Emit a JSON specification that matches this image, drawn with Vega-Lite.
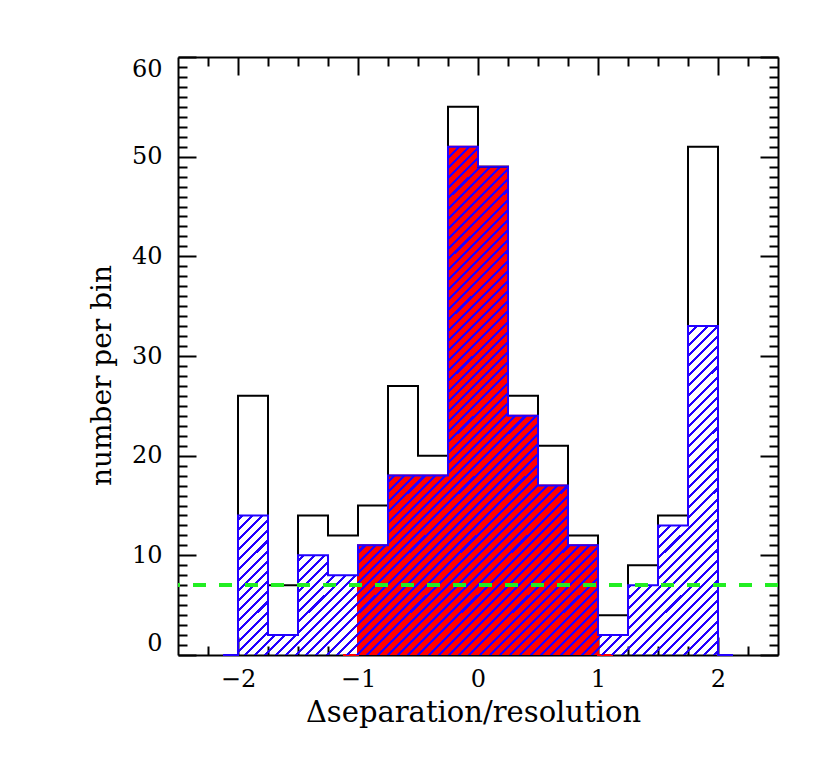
{
  "$schema": "https://vega.github.io/schema/vega-lite/v6.json",
  "width": 600,
  "height": 598,
  "autosize": {"type": "none"},
  "padding": {"left": 178, "top": 57, "right": 52, "bottom": 112},
  "background": "white",
  "datasets": {
    "hist": [
      {"c": -2.125, "all": 0, "sel": 0, "core": null},
      {"c": -1.875, "all": 26, "sel": 14, "core": null},
      {"c": -1.625, "all": 7, "sel": 2, "core": null},
      {"c": -1.375, "all": 14, "sel": 10, "core": null},
      {"c": -1.125, "all": 12, "sel": 8, "core": 0},
      {"c": -0.875, "all": 15, "sel": 11, "core": 11},
      {"c": -0.625, "all": 27, "sel": 18, "core": 18},
      {"c": -0.375, "all": 20, "sel": 18, "core": 18},
      {"c": -0.125, "all": 55, "sel": 51, "core": 51},
      {"c": 0.125, "all": 49, "sel": 49, "core": 49},
      {"c": 0.375, "all": 26, "sel": 24, "core": 24},
      {"c": 0.625, "all": 21, "sel": 17, "core": 17},
      {"c": 0.875, "all": 12, "sel": 11, "core": 11},
      {"c": 1.125, "all": 4, "sel": 2, "core": 0},
      {"c": 1.375, "all": 9, "sel": 7, "core": null},
      {"c": 1.625, "all": 14, "sel": 13, "core": null},
      {"c": 1.875, "all": 51, "sel": 33, "core": null},
      {"c": 2.125, "all": 0, "sel": 0, "core": null}
    ]
  },
  "data": {"name": "hist"},
  "resolve": {"axis": {"x": "independent", "y": "independent"}},
  "config": {
    "view": {"stroke": null},
    "axis": {
      "labelFont": "DejaVu Serif",
      "titleFont": "DejaVu Serif",
      "labelFontSize": 24,
      "titleFontWeight": "normal",
      "labelColor": "black",
      "titleColor": "black",
      "domainColor": "black",
      "tickColor": "black",
      "domainWidth": 2,
      "tickWidth": 2,
      "grid": false,
      "zindex": 1
    }
  },
  "layer": [
    {
      "transform": [{"filter": "datum.core != null"}],
      "mark": {"type": "area", "interpolate": "step", "color": "#ff0000"},
      "encoding": {
        "x": {
          "field": "c", "type": "quantitative",
          "scale": {"domain": [-2.5, 2.5], "nice": false, "zero": false},
          "axis": {
            "orient": "bottom", "values": [-2, -1, 0, 1, 2], "format": "d",
            "tickSize": -18, "labelPadding": 49, "labelBaseline": "alphabetic",
            "labelFontSize": 24, "labelFont": "DejaVu Serif",
            "title": "Δseparation/resolution", "titleX": 295, "titleY": 66,
            "titleBaseline": "alphabetic", "titleAlign": "center", "titleFontSize": 29
          }
        },
        "y": {
          "field": "core", "type": "quantitative",
          "scale": {"domain": [0, 60], "nice": false},
          "axis": {
            "orient": "left", "values": [0, 10, 20, 30, 40, 50, 60],
            "tickSize": -18, "labelPadding": 34, "labelFlush": true,
            "labelFontSize": 24, "labelFont": "DejaVu Serif",
            "title": "number per bin", "titleX": -68, "titleY": 318, "titleAngle": -90,
            "titleBaseline": "alphabetic", "titleAlign": "center", "titleFontSize": 28
          }
        }
      }
    },
    {
      "transform": [{"filter": "datum.core != null"}],
      "mark": {"type": "line", "interpolate": "step", "color": "#ff0000", "strokeWidth": 2},
      "encoding": {
        "x": {"field": "c", "type": "quantitative", "axis": null},
        "y": {"field": "core", "type": "quantitative", "axis": null}
      }
    },
    {
      "mark": {
        "type": "area", "interpolate": "step",
        "fill": {
          "gradient": "linear", "x1": 0, "y1": 0, "x2": 1, "y2": 1,
          "stops": [
{"offset":0,"color":"#20f"},{"offset":0.003,"color":"#20f"},{"offset":0.003,"color":"transparent"},{"offset":0.01,"color":"transparent"},
{"offset":0.01,"color":"#20f"},{"offset":0.013,"color":"#20f"},{"offset":0.013,"color":"transparent"},{"offset":0.02,"color":"transparent"},
{"offset":0.02,"color":"#20f"},{"offset":0.023,"color":"#20f"},{"offset":0.023,"color":"transparent"},{"offset":0.03,"color":"transparent"},
{"offset":0.03,"color":"#20f"},{"offset":0.033,"color":"#20f"},{"offset":0.033,"color":"transparent"},{"offset":0.04,"color":"transparent"},
{"offset":0.04,"color":"#20f"},{"offset":0.043,"color":"#20f"},{"offset":0.043,"color":"transparent"},{"offset":0.05,"color":"transparent"},
{"offset":0.05,"color":"#20f"},{"offset":0.053,"color":"#20f"},{"offset":0.053,"color":"transparent"},{"offset":0.06,"color":"transparent"},
{"offset":0.06,"color":"#20f"},{"offset":0.063,"color":"#20f"},{"offset":0.063,"color":"transparent"},{"offset":0.07,"color":"transparent"},
{"offset":0.07,"color":"#20f"},{"offset":0.073,"color":"#20f"},{"offset":0.073,"color":"transparent"},{"offset":0.08,"color":"transparent"},
{"offset":0.08,"color":"#20f"},{"offset":0.083,"color":"#20f"},{"offset":0.083,"color":"transparent"},{"offset":0.09,"color":"transparent"},
{"offset":0.09,"color":"#20f"},{"offset":0.093,"color":"#20f"},{"offset":0.093,"color":"transparent"},{"offset":0.10,"color":"transparent"},
{"offset":0.10,"color":"#20f"},{"offset":0.103,"color":"#20f"},{"offset":0.103,"color":"transparent"},{"offset":0.11,"color":"transparent"},
{"offset":0.11,"color":"#20f"},{"offset":0.113,"color":"#20f"},{"offset":0.113,"color":"transparent"},{"offset":0.12,"color":"transparent"},
{"offset":0.12,"color":"#20f"},{"offset":0.123,"color":"#20f"},{"offset":0.123,"color":"transparent"},{"offset":0.13,"color":"transparent"},
{"offset":0.13,"color":"#20f"},{"offset":0.133,"color":"#20f"},{"offset":0.133,"color":"transparent"},{"offset":0.14,"color":"transparent"},
{"offset":0.14,"color":"#20f"},{"offset":0.143,"color":"#20f"},{"offset":0.143,"color":"transparent"},{"offset":0.15,"color":"transparent"},
{"offset":0.15,"color":"#20f"},{"offset":0.153,"color":"#20f"},{"offset":0.153,"color":"transparent"},{"offset":0.16,"color":"transparent"},
{"offset":0.16,"color":"#20f"},{"offset":0.163,"color":"#20f"},{"offset":0.163,"color":"transparent"},{"offset":0.17,"color":"transparent"},
{"offset":0.17,"color":"#20f"},{"offset":0.173,"color":"#20f"},{"offset":0.173,"color":"transparent"},{"offset":0.18,"color":"transparent"},
{"offset":0.18,"color":"#20f"},{"offset":0.183,"color":"#20f"},{"offset":0.183,"color":"transparent"},{"offset":0.19,"color":"transparent"},
{"offset":0.19,"color":"#20f"},{"offset":0.193,"color":"#20f"},{"offset":0.193,"color":"transparent"},{"offset":0.20,"color":"transparent"},
{"offset":0.20,"color":"#20f"},{"offset":0.203,"color":"#20f"},{"offset":0.203,"color":"transparent"},{"offset":0.21,"color":"transparent"},
{"offset":0.21,"color":"#20f"},{"offset":0.213,"color":"#20f"},{"offset":0.213,"color":"transparent"},{"offset":0.22,"color":"transparent"},
{"offset":0.22,"color":"#20f"},{"offset":0.223,"color":"#20f"},{"offset":0.223,"color":"transparent"},{"offset":0.23,"color":"transparent"},
{"offset":0.23,"color":"#20f"},{"offset":0.233,"color":"#20f"},{"offset":0.233,"color":"transparent"},{"offset":0.24,"color":"transparent"},
{"offset":0.24,"color":"#20f"},{"offset":0.243,"color":"#20f"},{"offset":0.243,"color":"transparent"},{"offset":0.25,"color":"transparent"},
{"offset":0.25,"color":"#20f"},{"offset":0.253,"color":"#20f"},{"offset":0.253,"color":"transparent"},{"offset":0.26,"color":"transparent"},
{"offset":0.26,"color":"#20f"},{"offset":0.263,"color":"#20f"},{"offset":0.263,"color":"transparent"},{"offset":0.27,"color":"transparent"},
{"offset":0.27,"color":"#20f"},{"offset":0.273,"color":"#20f"},{"offset":0.273,"color":"transparent"},{"offset":0.28,"color":"transparent"},
{"offset":0.28,"color":"#20f"},{"offset":0.283,"color":"#20f"},{"offset":0.283,"color":"transparent"},{"offset":0.29,"color":"transparent"},
{"offset":0.29,"color":"#20f"},{"offset":0.293,"color":"#20f"},{"offset":0.293,"color":"transparent"},{"offset":0.30,"color":"transparent"},
{"offset":0.30,"color":"#20f"},{"offset":0.303,"color":"#20f"},{"offset":0.303,"color":"transparent"},{"offset":0.31,"color":"transparent"},
{"offset":0.31,"color":"#20f"},{"offset":0.313,"color":"#20f"},{"offset":0.313,"color":"transparent"},{"offset":0.32,"color":"transparent"},
{"offset":0.32,"color":"#20f"},{"offset":0.323,"color":"#20f"},{"offset":0.323,"color":"transparent"},{"offset":0.33,"color":"transparent"},
{"offset":0.33,"color":"#20f"},{"offset":0.333,"color":"#20f"},{"offset":0.333,"color":"transparent"},{"offset":0.34,"color":"transparent"},
{"offset":0.34,"color":"#20f"},{"offset":0.343,"color":"#20f"},{"offset":0.343,"color":"transparent"},{"offset":0.35,"color":"transparent"},
{"offset":0.35,"color":"#20f"},{"offset":0.353,"color":"#20f"},{"offset":0.353,"color":"transparent"},{"offset":0.36,"color":"transparent"},
{"offset":0.36,"color":"#20f"},{"offset":0.363,"color":"#20f"},{"offset":0.363,"color":"transparent"},{"offset":0.37,"color":"transparent"},
{"offset":0.37,"color":"#20f"},{"offset":0.373,"color":"#20f"},{"offset":0.373,"color":"transparent"},{"offset":0.38,"color":"transparent"},
{"offset":0.38,"color":"#20f"},{"offset":0.383,"color":"#20f"},{"offset":0.383,"color":"transparent"},{"offset":0.39,"color":"transparent"},
{"offset":0.39,"color":"#20f"},{"offset":0.393,"color":"#20f"},{"offset":0.393,"color":"transparent"},{"offset":0.40,"color":"transparent"},
{"offset":0.40,"color":"#20f"},{"offset":0.403,"color":"#20f"},{"offset":0.403,"color":"transparent"},{"offset":0.41,"color":"transparent"},
{"offset":0.41,"color":"#20f"},{"offset":0.413,"color":"#20f"},{"offset":0.413,"color":"transparent"},{"offset":0.42,"color":"transparent"},
{"offset":0.42,"color":"#20f"},{"offset":0.423,"color":"#20f"},{"offset":0.423,"color":"transparent"},{"offset":0.43,"color":"transparent"},
{"offset":0.43,"color":"#20f"},{"offset":0.433,"color":"#20f"},{"offset":0.433,"color":"transparent"},{"offset":0.44,"color":"transparent"},
{"offset":0.44,"color":"#20f"},{"offset":0.443,"color":"#20f"},{"offset":0.443,"color":"transparent"},{"offset":0.45,"color":"transparent"},
{"offset":0.45,"color":"#20f"},{"offset":0.453,"color":"#20f"},{"offset":0.453,"color":"transparent"},{"offset":0.46,"color":"transparent"},
{"offset":0.46,"color":"#20f"},{"offset":0.463,"color":"#20f"},{"offset":0.463,"color":"transparent"},{"offset":0.47,"color":"transparent"},
{"offset":0.47,"color":"#20f"},{"offset":0.473,"color":"#20f"},{"offset":0.473,"color":"transparent"},{"offset":0.48,"color":"transparent"},
{"offset":0.48,"color":"#20f"},{"offset":0.483,"color":"#20f"},{"offset":0.483,"color":"transparent"},{"offset":0.49,"color":"transparent"},
{"offset":0.49,"color":"#20f"},{"offset":0.493,"color":"#20f"},{"offset":0.493,"color":"transparent"},{"offset":0.50,"color":"transparent"},
{"offset":0.50,"color":"#20f"},{"offset":0.503,"color":"#20f"},{"offset":0.503,"color":"transparent"},{"offset":0.51,"color":"transparent"},
{"offset":0.51,"color":"#20f"},{"offset":0.513,"color":"#20f"},{"offset":0.513,"color":"transparent"},{"offset":0.52,"color":"transparent"},
{"offset":0.52,"color":"#20f"},{"offset":0.523,"color":"#20f"},{"offset":0.523,"color":"transparent"},{"offset":0.53,"color":"transparent"},
{"offset":0.53,"color":"#20f"},{"offset":0.533,"color":"#20f"},{"offset":0.533,"color":"transparent"},{"offset":0.54,"color":"transparent"},
{"offset":0.54,"color":"#20f"},{"offset":0.543,"color":"#20f"},{"offset":0.543,"color":"transparent"},{"offset":0.55,"color":"transparent"},
{"offset":0.55,"color":"#20f"},{"offset":0.553,"color":"#20f"},{"offset":0.553,"color":"transparent"},{"offset":0.56,"color":"transparent"},
{"offset":0.56,"color":"#20f"},{"offset":0.563,"color":"#20f"},{"offset":0.563,"color":"transparent"},{"offset":0.57,"color":"transparent"},
{"offset":0.57,"color":"#20f"},{"offset":0.573,"color":"#20f"},{"offset":0.573,"color":"transparent"},{"offset":0.58,"color":"transparent"},
{"offset":0.58,"color":"#20f"},{"offset":0.583,"color":"#20f"},{"offset":0.583,"color":"transparent"},{"offset":0.59,"color":"transparent"},
{"offset":0.59,"color":"#20f"},{"offset":0.593,"color":"#20f"},{"offset":0.593,"color":"transparent"},{"offset":0.60,"color":"transparent"},
{"offset":0.60,"color":"#20f"},{"offset":0.603,"color":"#20f"},{"offset":0.603,"color":"transparent"},{"offset":0.61,"color":"transparent"},
{"offset":0.61,"color":"#20f"},{"offset":0.613,"color":"#20f"},{"offset":0.613,"color":"transparent"},{"offset":0.62,"color":"transparent"},
{"offset":0.62,"color":"#20f"},{"offset":0.623,"color":"#20f"},{"offset":0.623,"color":"transparent"},{"offset":0.63,"color":"transparent"},
{"offset":0.63,"color":"#20f"},{"offset":0.633,"color":"#20f"},{"offset":0.633,"color":"transparent"},{"offset":0.64,"color":"transparent"},
{"offset":0.64,"color":"#20f"},{"offset":0.643,"color":"#20f"},{"offset":0.643,"color":"transparent"},{"offset":0.65,"color":"transparent"},
{"offset":0.65,"color":"#20f"},{"offset":0.653,"color":"#20f"},{"offset":0.653,"color":"transparent"},{"offset":0.66,"color":"transparent"},
{"offset":0.66,"color":"#20f"},{"offset":0.663,"color":"#20f"},{"offset":0.663,"color":"transparent"},{"offset":0.67,"color":"transparent"},
{"offset":0.67,"color":"#20f"},{"offset":0.673,"color":"#20f"},{"offset":0.673,"color":"transparent"},{"offset":0.68,"color":"transparent"},
{"offset":0.68,"color":"#20f"},{"offset":0.683,"color":"#20f"},{"offset":0.683,"color":"transparent"},{"offset":0.69,"color":"transparent"},
{"offset":0.69,"color":"#20f"},{"offset":0.693,"color":"#20f"},{"offset":0.693,"color":"transparent"},{"offset":0.70,"color":"transparent"},
{"offset":0.70,"color":"#20f"},{"offset":0.703,"color":"#20f"},{"offset":0.703,"color":"transparent"},{"offset":0.71,"color":"transparent"},
{"offset":0.71,"color":"#20f"},{"offset":0.713,"color":"#20f"},{"offset":0.713,"color":"transparent"},{"offset":0.72,"color":"transparent"},
{"offset":0.72,"color":"#20f"},{"offset":0.723,"color":"#20f"},{"offset":0.723,"color":"transparent"},{"offset":0.73,"color":"transparent"},
{"offset":0.73,"color":"#20f"},{"offset":0.733,"color":"#20f"},{"offset":0.733,"color":"transparent"},{"offset":0.74,"color":"transparent"},
{"offset":0.74,"color":"#20f"},{"offset":0.743,"color":"#20f"},{"offset":0.743,"color":"transparent"},{"offset":0.75,"color":"transparent"},
{"offset":0.75,"color":"#20f"},{"offset":0.753,"color":"#20f"},{"offset":0.753,"color":"transparent"},{"offset":0.76,"color":"transparent"},
{"offset":0.76,"color":"#20f"},{"offset":0.763,"color":"#20f"},{"offset":0.763,"color":"transparent"},{"offset":0.77,"color":"transparent"},
{"offset":0.77,"color":"#20f"},{"offset":0.773,"color":"#20f"},{"offset":0.773,"color":"transparent"},{"offset":0.78,"color":"transparent"},
{"offset":0.78,"color":"#20f"},{"offset":0.783,"color":"#20f"},{"offset":0.783,"color":"transparent"},{"offset":0.79,"color":"transparent"},
{"offset":0.79,"color":"#20f"},{"offset":0.793,"color":"#20f"},{"offset":0.793,"color":"transparent"},{"offset":0.80,"color":"transparent"},
{"offset":0.80,"color":"#20f"},{"offset":0.803,"color":"#20f"},{"offset":0.803,"color":"transparent"},{"offset":0.81,"color":"transparent"},
{"offset":0.81,"color":"#20f"},{"offset":0.813,"color":"#20f"},{"offset":0.813,"color":"transparent"},{"offset":0.82,"color":"transparent"},
{"offset":0.82,"color":"#20f"},{"offset":0.823,"color":"#20f"},{"offset":0.823,"color":"transparent"},{"offset":0.83,"color":"transparent"},
{"offset":0.83,"color":"#20f"},{"offset":0.833,"color":"#20f"},{"offset":0.833,"color":"transparent"},{"offset":0.84,"color":"transparent"},
{"offset":0.84,"color":"#20f"},{"offset":0.843,"color":"#20f"},{"offset":0.843,"color":"transparent"},{"offset":0.85,"color":"transparent"},
{"offset":0.85,"color":"#20f"},{"offset":0.853,"color":"#20f"},{"offset":0.853,"color":"transparent"},{"offset":0.86,"color":"transparent"},
{"offset":0.86,"color":"#20f"},{"offset":0.863,"color":"#20f"},{"offset":0.863,"color":"transparent"},{"offset":0.87,"color":"transparent"},
{"offset":0.87,"color":"#20f"},{"offset":0.873,"color":"#20f"},{"offset":0.873,"color":"transparent"},{"offset":0.88,"color":"transparent"},
{"offset":0.88,"color":"#20f"},{"offset":0.883,"color":"#20f"},{"offset":0.883,"color":"transparent"},{"offset":0.89,"color":"transparent"},
{"offset":0.89,"color":"#20f"},{"offset":0.893,"color":"#20f"},{"offset":0.893,"color":"transparent"},{"offset":0.90,"color":"transparent"},
{"offset":0.90,"color":"#20f"},{"offset":0.903,"color":"#20f"},{"offset":0.903,"color":"transparent"},{"offset":0.91,"color":"transparent"},
{"offset":0.91,"color":"#20f"},{"offset":0.913,"color":"#20f"},{"offset":0.913,"color":"transparent"},{"offset":0.92,"color":"transparent"},
{"offset":0.92,"color":"#20f"},{"offset":0.923,"color":"#20f"},{"offset":0.923,"color":"transparent"},{"offset":0.93,"color":"transparent"},
{"offset":0.93,"color":"#20f"},{"offset":0.933,"color":"#20f"},{"offset":0.933,"color":"transparent"},{"offset":0.94,"color":"transparent"},
{"offset":0.94,"color":"#20f"},{"offset":0.943,"color":"#20f"},{"offset":0.943,"color":"transparent"},{"offset":0.95,"color":"transparent"},
{"offset":0.95,"color":"#20f"},{"offset":0.953,"color":"#20f"},{"offset":0.953,"color":"transparent"},{"offset":0.96,"color":"transparent"},
{"offset":0.96,"color":"#20f"},{"offset":0.963,"color":"#20f"},{"offset":0.963,"color":"transparent"},{"offset":0.97,"color":"transparent"},
{"offset":0.97,"color":"#20f"},{"offset":0.973,"color":"#20f"},{"offset":0.973,"color":"transparent"},{"offset":0.98,"color":"transparent"},
{"offset":0.98,"color":"#20f"},{"offset":0.983,"color":"#20f"},{"offset":0.983,"color":"transparent"},{"offset":0.99,"color":"transparent"},
{"offset":0.99,"color":"#20f"},{"offset":0.993,"color":"#20f"},{"offset":0.993,"color":"transparent"},{"offset":1,"color":"transparent"}
          ]
        }
      },
      "encoding": {
        "x": {
          "field": "c", "type": "quantitative",
          "axis": {"orient": "top", "values": [-2, -1, 0, 1, 2], "labels": false, "tickSize": -18, "title": null}
        },
        "y": {
          "field": "sel", "type": "quantitative",
          "axis": {"orient": "right", "values": [0, 10, 20, 30, 40, 50, 60], "labels": false, "tickSize": -18, "title": null}
        }
      }
    },
    {
      "mark": {"type": "line", "interpolate": "step", "color": "black", "strokeWidth": 2},
      "encoding": {
        "x": {
          "field": "c", "type": "quantitative",
          "axis": {"orient": "bottom", "values": [-2.25, -1.75, -1.5, -1.25, -0.75, -0.5, -0.25, 0.25, 0.5, 0.75, 1.25, 1.5, 1.75, 2.25], "labels": false, "domain": false, "tickSize": -9, "title": null}
        },
        "y": {
          "field": "all", "type": "quantitative",
          "axis": {"orient": "left", "values": [1,2,3,4,5,6,7,8,9,11,12,13,14,15,16,17,18,19,21,22,23,24,25,26,27,28,29,31,32,33,34,35,36,37,38,39,41,42,43,44,45,46,47,48,49,51,52,53,54,55,56,57,58,59], "labels": false, "domain": false, "tickSize": -9, "title": null}
        }
      }
    },
    {
      "mark": {"type": "line", "interpolate": "step", "color": "#20f", "strokeWidth": 2},
      "encoding": {
        "x": {
          "field": "c", "type": "quantitative",
          "axis": {"orient": "top", "values": [-2.25, -1.75, -1.5, -1.25, -0.75, -0.5, -0.25, 0.25, 0.5, 0.75, 1.25, 1.5, 1.75, 2.25], "labels": false, "domain": false, "tickSize": -9, "title": null}
        },
        "y": {
          "field": "sel", "type": "quantitative",
          "axis": {"orient": "right", "values": [1,2,3,4,5,6,7,8,9,11,12,13,14,15,16,17,18,19,21,22,23,24,25,26,27,28,29,31,32,33,34,35,36,37,38,39,41,42,43,44,45,46,47,48,49,51,52,53,54,55,56,57,58,59], "labels": false, "domain": false, "tickSize": -9, "title": null}
        }
      }
    },
    {
      "mark": {"type": "rule", "color": "#22ee22", "strokeWidth": 3.5, "strokeDash": [13, 13]},
      "encoding": {
        "y": {"datum": 7, "type": "quantitative", "axis": null}
      }
    }
  ]
}
